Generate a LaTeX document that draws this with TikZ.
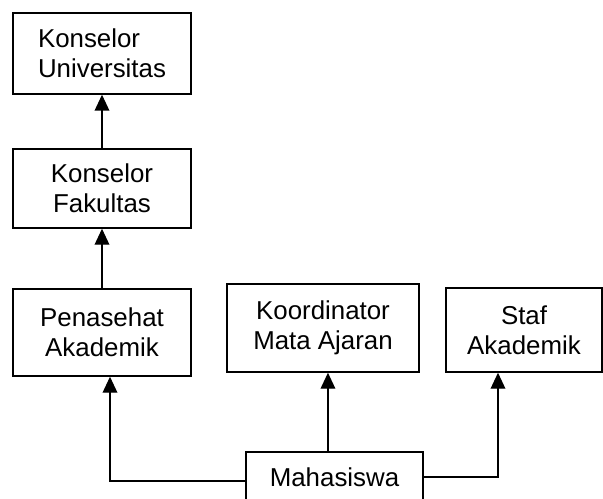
\documentclass[tikz,border=0pt]{standalone}
\usepackage{fontspec}
\setmainfont{Liberation Sans}
\usepackage{tikz}
\usetikzlibrary{arrows.meta,positioning}

\begin{document}
\begin{tikzpicture}[
    x=0.75pt, y=-0.75pt,
    every node/.style={font=\fontsize{19.4}{22.5}\selectfont},
    box/.style={
      draw,
      line width=1.1pt,
      align=center,
      inner sep=2pt
    },
    arrow/.style={-{Triangle[length=12pt,width=11pt]}, line width=1.1pt}
  ]
    \useasboundingbox (0,0) rectangle (603,499);

    \node[box, minimum width=133.5pt, minimum height=60.75pt, align=left] (univ) at (102,53.5) {Konselor\\Universitas};
    \node[box, minimum width=133.5pt, minimum height=59.25pt] (fak) at (102,188.5) {Konselor\\Fakultas};
    \node[box, minimum width=133.5pt, minimum height=65.25pt] (pen) at (102,332.5) {Penasehat\\Akademik};
    \node[box, minimum width=144pt, minimum height=66pt] (koor) at (323,328) {Koordinator\\Mata Ajaran};
    \node[box, minimum width=117pt, minimum height=63pt] (staf) at (524,330) {Staf\\Akademik};
    \node[box, minimum width=132.75pt, minimum height=37.5pt] (mhs) at (334.5,477) {Mahasiswa};

    \draw[arrow] (fak) -- (univ);
    \draw[arrow] (pen) -- (fak);
    \draw[arrow] ([yshift=-3pt]mhs.west) -| ([xshift=6pt]pen.south);
    \draw[arrow] ([xshift=-4.9pt]mhs.north) -- ([xshift=-4.9pt]mhs.north |- koor.south);
    \draw[arrow] (mhs.east) -| ([xshift=-19.5pt]staf.south);
  \end{tikzpicture}
\end{document}
